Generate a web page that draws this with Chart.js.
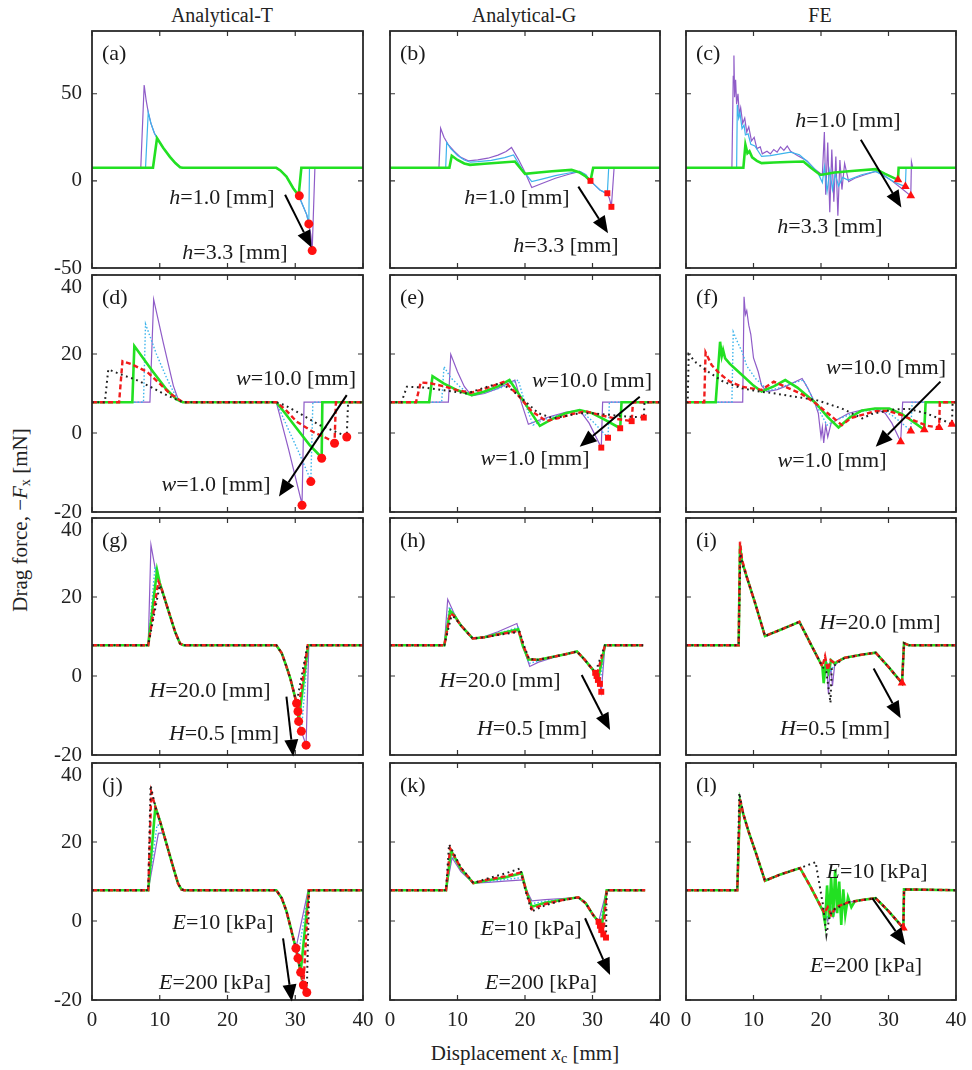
<!DOCTYPE html>
<html><head><meta charset="utf-8">
<script src="https://cdn.jsdelivr.net/npm/chart.js@4.4.1/dist/chart.umd.min.js"></script>
<style>
html,body{margin:0;padding:0;background:#fff;}
body{width:972px;height:1070px;position:relative;overflow:hidden;font-family:'Liberation Serif','Times New Roman',serif;color:#222;}
canvas{position:absolute;}
.t{position:absolute;white-space:nowrap;transform:translate(-50%,-50%);font-size:22px;line-height:1;color:#1a1a1a;}
.pl{position:absolute;white-space:nowrap;transform:translateY(-50%);font-size:22px;line-height:1;color:#1a1a1a;}
.ct{position:absolute;white-space:nowrap;transform:translate(-50%,-50%);font-size:20px;line-height:1;}
sub{font-size:68%;vertical-align:-0.25em;line-height:0;}
.yt{position:absolute;left:20px;top:520px;white-space:nowrap;transform:translate(-50%,-50%) rotate(-90deg);font-size:21px;line-height:1;}
</style></head><body>
<div class="ct" style="left:222px;top:15px">Analytical-T</div>
<div class="ct" style="left:524px;top:15px">Analytical-G</div>
<div class="ct" style="left:820px;top:15px">FE</div>
<div class="yt">Drag force, &minus;<i>F</i><sub>x</sub> [mN]</div>
<div class="ct" style="left:525px;top:1053px;font-size:21px">Displacement <i>x</i><sub>c</sub> [mm]</div>
<script>
// ---------- axes ----------
const X_TICKS=[0,10,20,30,40];
const Y_TICKS_TOP=[-50,0,50];
const Y_TICKS=[-20,0,20,40];
const Y_RANGE_TOP=[-50,86];
const Y_RANGE=[-20,40];
const PANEL_LABELS=['(a)','(b)','(c)','(d)','(e)','(f)','(g)','(h)','(i)','(j)','(k)','(l)'];

// ---------- (a) ----------
const A_PURPLE=[[0,7.5],[7.2,7.5],[7.7,55],[8.0,46],[8.3,39.5],[8.7,33],[9.2,27.5],[9.6,24.5],[10.5,19],[11.5,13.8],[12.3,10.2],[13,7.8],[13.4,7.5],[27.2,7.5],[27.8,6],[28.7,2.5],[29.7,-4.2],[30.5,-8.4],[31.2,-14.8],[31.7,-19.5],[32.0,-24.7],[32.3,-31],[32.5,-40],[32.9,7.5],[40,7.5]];
const A_BLUE=[[0,7.5],[7.9,7.5],[8.3,39.3],[8.7,33],[9.2,27.5],[9.6,24.5],[10.5,19],[11.5,13.8],[12.3,10.2],[13,7.8],[13.4,7.5],[27.2,7.5],[27.8,6],[28.7,2.5],[29.7,-4.2],[30.5,-8.4],[31.2,-14.8],[31.7,-19.5],[32.0,-24.7],[32.1,7.5],[40,7.5]];
const A_GREEN=[[0,7.5],[9.0,7.5],[9.6,24.5],[10.5,19],[11.5,13.8],[12.3,10.2],[13,7.8],[13.4,7.5],[27.2,7.5],[27.8,6],[28.7,2.5],[29.7,-4.2],[30.5,-8.4],[30.9,7.5],[40,7.5]];
const A_MARKS=[[30.6,-8.6],[32.0,-24.7],[32.5,-40]];
const A_ARROW=[[28.5,-8],[32.4,-38.3]];

// ---------- (b) ----------
const B_PURPLE=[[0,7.5],[7.25,7.5],[7.5,30.2],[8.0,25],[8.6,21],[9.5,17],[10.5,13.5],[11.6,11.5],[13,12],[14.5,13],[16,14.8],[17.2,16.8],[18,19.2],[19,12.5],[20,5],[21,-3.8],[22.5,-1.5],[24.5,1.5],[26.5,3.8],[28.1,5.4],[29,3.5],[29.7,0],[30.5,-3],[31.1,-5.2],[31.7,-6.5],[32.2,-7.6],[32.5,-10],[32.8,-14.7],[33.2,7.5],[40,7.5]];
const B_BLUE=[[0,7.5],[8.25,7.5],[8.4,22],[9,18.5],[10,14.5],[11,12],[11.9,10.7],[13,11],[15,11.8],[17,13.3],[18.3,14.9],[19.5,7],[21,-0.4],[22.5,1],[24.5,3],[26.5,4.5],[28.1,5.4],[29,3.5],[29.7,0],[30.5,-3],[31.1,-5.2],[31.7,-6.3],[32.2,-7.1],[32.4,7.5],[40,7.5]];
const B_GREEN=[[0,7.5],[8.8,7.5],[9.15,14.4],[10,12],[11,10],[11.85,9.2],[14,9.8],[16,10.4],[18.5,11.1],[20,4],[22,4.8],[24,5.5],[26.9,6.3],[28,5],[29,2.5],[29.7,0],[30.1,7.5],[40,7.5]];
const B_MARKS=[[29.7,0],[32.2,-7.1],[32.8,-14.9]];
const B_ARROW=[[27.9,-3.3],[32.3,-30]];

// ---------- (c) ----------
const C_PURPLE=[[0,7.5],[6.8,7.5],[7.0,60],[7.1,72],[7.2,48],[7.35,58],[7.5,44],[7.7,50],[7.9,38],[8.1,42],[8.4,33],[8.7,36],[9.0,28],[9.3,31],[9.7,23],[10.1,25],[10.5,18.5],[11,19.5],[11.3,15.5],[12,17],[12.5,15.5],[13,18],[13.5,16.5],[14,19.5],[14.5,17.5],[15,20],[15.5,17],[16.5,14.5],[17.9,11.5],[19,7],[20.2,3.4],[20.5,28],[20.7,-8],[21,22],[21.3,-18],[21.6,18],[21.9,-12],[22.2,14],[22.5,-20],[22.8,12],[23.1,-5],[23.5,10],[24.1,-0.4],[25,1.5],[26.5,3.5],[28.1,5.4],[29,4],[30.5,0],[32,-4.5],[33.3,-8.6],[33.4,11],[33.6,7.5],[40,7.5]];
const C_BLUE=[[0,7.5],[7.5,7.5],[7.6,43.7],[7.8,36],[8.0,39],[8.3,30],[8.6,32],[8.8,26.4],[9.2,27],[9.6,21],[10.2,20],[11.2,14],[12.5,14.5],[14,15.5],[15.5,16.5],[16.8,15],[18,11],[19.5,5],[20.2,-1],[20.5,8],[20.9,-6],[21.3,6],[21.7,-5],[22.1,4],[22.6,-3],[23.2,2],[24,0.5],[26,3.5],[28.1,5.4],[29.5,2.5],[31,-1],[32.5,-3.3],[32.6,7.5],[40,7.5]];
const C_GREEN=[[0,7.5],[8.5,7.5],[8.8,20.7],[9.1,15.9],[9.4,17],[9.8,13.5],[10.5,11.5],[11.2,10.2],[13,10.5],[15,10.8],[17.4,11.1],[18.5,7.5],[19.9,3.4],[22,4.8],[25,5.8],[28.1,6.7],[29.5,4],[31.4,0.6],[31.5,7.5],[40,7.5]];
const C_MARKS=[[31.4,0.6],[32.5,-3.3],[33.3,-8.6]];
const C_ARROW=[[25.9,23.6],[31.9,-15.3]];

// ---------- (d) ----------
const D_PURPLE=[[0,7.8],[8.55,7.8],[9.1,33.8],[10.5,23],[12,12],[12.7,8.6],[13.4,7.8],[27.2,7.8],[29,-4],[31.0,-18],[31.3,7.8],[40,7.8]];
const D_BLUE=[[0,7.8],[7.6,7.8],[7.9,27.6],[9.5,20],[11,14],[12,10.5],[12.7,8.6],[13.4,7.8],[27.2,7.8],[28.7,2],[30.5,-4.8],[32.3,-12],[32.6,7.8],[40,7.8]];
const D_GREEN=[[0,7.8],[5.95,7.8],[6.25,22],[9,15.5],[11,11],[12.5,8.5],[13.4,7.8],[27.2,7.8],[28.5,5],[30.2,1.2],[32.1,-3],[33.9,-6.2],[34.0,7.8],[40,7.8]];
const D_RED=[[0,7.8],[4.0,7.8],[4.5,18.2],[6,17.3],[8.1,15.5],[10,12.5],[11.5,10],[12.7,8.6],[13.4,7.8],[27.2,7.8],[28.5,6],[30.2,2.9],[32.6,0.3],[34.5,-1.2],[35.8,-2.4],[36.0,7.8],[40,7.8]];
const D_BLACK=[[0,7.8],[1.9,7.8],[2.4,16.1],[4,15],[6.6,13.4],[8.5,11.8],[10.5,10],[12,8.8],[13.4,7.8],[27.2,7.8],[28.5,7],[30.2,5.4],[33.6,2],[36,0.3],[37.6,-0.9],[37.8,7.8],[40,7.8]];
const D_MARKS=[[31.0,-18.3],[32.3,-12.3],[33.9,-6.4],[35.8,-2.6],[37.6,-1]];
const D_ARROW=[[37.6,9.6],[27.6,-16.1]];

// ---------- (e) ----------
const E_PURPLE=[[0,7.8],[8.65,7.8],[9.0,19.9],[10,15.5],[11,11.8],[12.1,9.4],[14,10],[16,11.3],[18.5,13.4],[19.5,7.5],[20.5,2.2],[22,3.2],[24,4.3],[26,5.2],[28.1,5.8],[29.5,2.5],[31.3,-3.7],[31.5,7.8],[40,7.8]];
const E_BLUE=[[0,7.8],[7.65,7.8],[8.0,16.8],[9,14],[10.5,11.5],[12.1,9.6],[14,10.2],[16.5,11.5],[19.0,13.4],[20,7.5],[21.2,2.0],[23,3.5],[25.5,4.8],[28.1,5.8],[30,3],[32.3,-1.2],[32.5,7.8],[40,7.8]];
const E_GREEN=[[0,7.8],[5.8,7.8],[6.3,14.4],[8,12.5],[10,10.8],[12.1,9.6],[14,10.5],[16,11.8],[17.7,13.4],[20,7.5],[22.2,1.8],[24,3.5],[26,5],[28.1,5.8],[30,5],[32,3.2],[34.1,1.2],[34.3,7.8],[40,7.8]];
const E_RED=[[0,7.8],[3.85,7.8],[4.55,12.8],[6,12.6],[8,11.8],[10,10.8],[12,10.2],[14,11.2],[17.0,13.0],[19,9.5],[21,5.5],[23.2,3.0],[25,3.8],[27,4.8],[29,5.5],[31,4.6],[33.5,3.6],[35.8,3.0],[36,7.8],[40,7.8]];
const E_BLACK=[[0,7.8],[1.7,7.8],[2.5,11.7],[5,11.5],[8,10.8],[11.4,10.0],[14,11.5],[16.3,12.6],[18,11],[20,8],[22,5],[24.2,3.7],[26,4.3],[28,5],[30,5],[32.5,4.6],[35,4.2],[37.6,3.9],[37.7,7.8],[40,7.8]];
const E_MARKS=[[31.3,-3.7],[32.3,-1.2],[34.1,1.2],[35.8,3.0],[37.6,3.9]];
const E_ARROW=[[37.0,9.2],[28.1,-3.5]];

// ---------- (f) ----------
const F_PURPLE=[[0,7.8],[8.4,7.8],[8.6,34.5],[8.8,30],[9.0,31],[9.3,27.3],[9.6,25],[10,19],[10.7,15.5],[11.2,12],[12.0,10.5],[13.5,11],[15,12],[17.2,13.8],[18,11.5],[19,8],[19.6,5],[20.0,-1],[20.2,1.5],[20.4,-2.5],[20.7,2],[21,-1],[21.5,2.5],[22.5,3.5],[24.1,5.0],[26,5.8],[28.1,6.2],[29.5,5],[30.5,2.5],[31.8,-2.2],[32.1,7.8],[40,7.8]];
const F_BLUE=[[0,7.8],[6.8,7.8],[7.0,25.6],[7.5,23.5],[8.3,20.6],[9,17],[10.3,13.8],[12.2,10.7],[14,11.5],[15.5,12.5],[17.4,13.4],[19,8],[20.9,2.0],[22.5,3.5],[24.5,4.8],[26.5,5.6],[28.8,6.1],[30.5,4.5],[32,2.5],[33.3,0.5],[33.5,7.8],[40,7.8]];
const F_GREEN=[[0,7.8],[4.4,7.8],[5.05,23.1],[5.3,19.5],[5.5,21],[5.8,18.9],[6.5,17.5],[8.3,14.7],[10,12],[11.2,10.5],[13,11.8],[14.7,13.4],[16.5,11.5],[19.2,7.6],[21,4],[22.6,1.4],[24.3,4],[26.1,5.7],[28,6.2],[30.1,6.2],[32,4.8],[33.7,2.8],[35.3,0.8],[35.5,7.8],[40,7.8]];
const F_RED=[[0,7.8],[2.7,7.8],[2.9,20.4],[3.8,17.2],[5,15],[6.5,13],[8.3,11.7],[11.2,10.9],[13.0,13.0],[15,11.5],[17,10],[19.2,7.5],[21,5],[23.1,2.0],[24.5,3.8],[26.1,4.6],[28,5.5],[30,5.6],[32,4.5],[34,3],[35.8,1.8],[37.5,1.4],[37.6,7.8],[40,7.8]];
const F_BLACK=[[0,7.8],[0.25,7.8],[0.4,19.9],[1.5,17.8],[3.3,15.5],[5.5,13],[8.3,11.3],[10.5,10.6],[13.2,10.0],[16,9.2],[19.2,8.4],[21,7.4],[23.1,6.2],[26.1,3.7],[27.5,4.8],[29.1,5.4],[31,6],[33,6.1],[35.5,5],[37.5,3.7],[39.4,2.2],[39.5,7.8],[40,7.8]];
const F_MARKS=[[31.8,-2.2],[33.3,0.5],[35.3,0.8],[37.5,1.4],[39.4,2.2]];
const F_ARROW=[[37.7,13.0],[28.1,-3.5]];

// ---------- (g) ----------
const G_PURPLE=[[0,7.8],[8.3,7.8],[8.7,33.2],[9.3,27.5],[10,23],[11.25,16.7],[12.3,11],[13,8.2],[13.5,7.8],[27.2,7.8],[28,5.8],[28.7,2.4],[29.3,-0.8],[29.7,-3.5],[30.2,-6.9],[30.4,-9],[30.5,-11.5],[30.9,-14],[31.6,-17.5],[32.0,7.8],[40,7.8]];
const G_BLUE=[[0,7.8],[8.3,7.8],[9.3,27.7],[10,23],[11.25,16.7],[12.3,11],[13,8.2],[13.5,7.8],[27.2,7.8],[28,5.8],[28.7,2.4],[29.3,-0.8],[29.7,-3.5],[30.2,-6.9],[30.4,-9],[30.5,-11.5],[30.9,-14],[31.95,7.8],[40,7.8]];
const G_GREEN=[[0,7.8],[8.3,7.8],[9.6,26.8],[10,23.6],[11.25,16.7],[12.3,11],[13,8.2],[13.5,7.8],[27.2,7.8],[28,5.8],[28.7,2.4],[29.3,-0.8],[29.7,-3.5],[30.2,-6.9],[30.4,-9],[30.5,-11.5],[31.9,7.8],[40,7.8]];
const G_RED=[[0,7.8],[8.3,7.8],[9.8,23.9],[10.2,22.5],[11.25,16.7],[12.3,11],[13,8.2],[13.5,7.8],[27.2,7.8],[28,5.8],[28.7,2.4],[29.3,-0.8],[29.7,-3.5],[30.2,-6.9],[30.4,-9],[31.85,7.8],[40,7.8]];
const G_BLACK=[[0,7.8],[8.3,7.8],[10.0,23],[10.3,21.8],[11.25,16.7],[12.3,11],[13,8.2],[13.5,7.8],[27.2,7.8],[28,5.8],[28.7,2.4],[29.3,-0.8],[29.7,-3.5],[30.2,-6.9],[31.8,7.8],[40,7.8]];
const G_MARKS=[[30.2,-6.9],[30.4,-9],[30.5,-11.5],[30.9,-14],[31.6,-17.5]];
const G_ARROW=[[28.7,-5.2],[29.7,-20.4]];

// ---------- (h) ----------
const H_PURPLE=[[0,7.8],[8.05,7.8],[8.55,19.4],[9.5,15.8],[10.5,12.8],[12.25,9.5],[14,10],[16,11.2],[18.8,13.3],[19.7,7.5],[20.7,2.4],[22,3.5],[24,4.6],[26,5.5],[27.7,6.2],[28.8,4.2],[30.1,1.5],[30.6,0],[30.8,-1],[31.1,-2],[31.3,-4.0],[31.85,7.8],[37.5,7.8]];
const H_BLUE=[[0,7.8],[8.05,7.8],[8.8,17.5],[9.5,15.6],[10.5,12.8],[12.25,9.5],[14,9.9],[16,10.8],[19.0,12.3],[19.8,7.5],[20.6,3.2],[22,3.8],[24,4.7],[26,5.5],[27.7,6.2],[28.8,4.2],[30.1,1.5],[30.6,0],[30.8,-1],[31.1,-2],[31.85,7.8],[37.5,7.8]];
const H_GREEN=[[0,7.8],[8.05,7.8],[8.9,16.5],[9.5,15.4],[10.5,12.8],[12.25,9.5],[14,9.8],[16,10.6],[19.0,11.8],[19.7,7.5],[20.5,4.2],[22,4.1],[24,4.8],[26,5.5],[27.7,6.2],[28.8,4.2],[30.1,1.5],[30.6,0],[30.8,-1],[31.85,7.8],[37.5,7.8]];
const H_RED=[[0,7.8],[8.05,7.8],[8.95,15.9],[9.5,15.2],[10.5,12.8],[12.25,9.5],[14,9.8],[16,10.5],[19.1,11.4],[19.8,7.5],[20.6,4.2],[22,4.1],[24,4.8],[26,5.5],[27.7,6.2],[28.8,4.2],[30.1,1.5],[30.6,0],[31.85,7.8],[37.5,7.8]];
const H_BLACK=[[0,7.8],[8.05,7.8],[9.1,15.2],[9.6,14.8],[10.5,12.8],[12.25,9.5],[14,9.8],[16,10.4],[19.2,11.2],[19.9,7.5],[20.6,4.3],[22,4.1],[24,4.8],[26,5.5],[27.7,6.2],[28.8,4.2],[30.1,1.5],[30.4,0.8],[31.85,7.8],[37.5,7.8]];
const H_MARKS=[[30.4,0.8],[30.6,0],[30.8,-1],[31.1,-2],[31.3,-4]];
const H_ARROW=[[28.4,0.25],[32.6,-13.7]];

// ---------- (i) ----------
const I_PURPLE=[[0,7.8],[7.8,7.8],[8.0,32],[8.3,28.5],[9.0,25.1],[10.25,18.4],[11.7,10.1],[14,11.7],[16.8,13.7],[18.5,8],[20.2,2.4],[20.5,-1],[20.8,4],[21.1,-4.5],[21.4,3],[21.7,-2.5],[22,2.5],[22.5,3.5],[23.5,4.6],[26,5.4],[28.1,5.9],[30,2.3],[32.0,-1.8],[32.3,8.3],[33,7.8],[40,7.8]];
const I_BLUE=[[0,7.8],[7.8,7.8],[8.0,32.5],[8.3,28.8],[9.0,25.1],[10.25,18.4],[11.7,10.1],[14,11.7],[16.8,13.7],[18.5,8],[20.2,2.4],[20.6,0.5],[21,3],[21.4,1],[22,3],[23.5,4.6],[26,5.4],[28.1,5.9],[30,2.3],[32.0,-1.8],[32.3,8.3],[33,7.8],[40,7.8]];
const I_GREEN=[[0,7.8],[7.8,7.8],[8.0,33],[8.3,29],[9.0,25.1],[10.25,18.4],[11.7,10.1],[14,11.7],[16.8,13.7],[18.5,8],[20.2,2.4],[20.4,-1.8],[20.7,3.5],[21.1,1],[21.5,4],[22,3.2],[23.5,4.6],[26,5.4],[28.1,5.9],[30,2.3],[32.0,-1.8],[32.3,8.3],[33,7.8],[40,7.8]];
const I_RED=[[0,7.8],[7.8,7.8],[8.0,34],[8.3,29.5],[9.0,25.1],[10.25,18.4],[11.7,10.1],[14,11.7],[16.8,13.7],[18.5,8],[20.2,2.4],[20.6,5],[21,1.5],[21.4,4],[22,3.3],[23.5,4.6],[26,5.4],[28.1,5.9],[30,2.3],[32.0,-1.8],[32.3,8.3],[33,7.8],[40,7.8]];
const I_BLACK=[[0,7.8],[7.8,7.8],[8.05,31],[8.4,28],[9.0,25.1],[10.25,18.4],[11.7,10.1],[14,11.7],[16.8,13.7],[18.5,8],[20.2,2.4],[20.8,1],[21.4,-6.8],[21.6,2],[22.2,3],[23.5,4.6],[26,5.4],[28.1,5.9],[30,2.3],[32.0,-1.8],[32.3,8.3],[33,7.8],[40,7.8]];
const I_MARKS=[[32.0,-1.8]];
const I_ARROW=[[27.8,1.9],[31.8,-10.7]];

// ---------- (j) ----------
const J_PURPLE=[[0,7.8],[8.3,7.8],[9.8,22.2],[10.5,22.3],[11,19.5],[12,13.5],[12.7,9.5],[13.2,8],[13.6,7.8],[27.2,7.8],[28,5.8],[28.7,2.5],[29.3,-1.5],[29.7,-4.3],[30.1,-6.9],[31.9,7.8],[40,7.8]];
const J_BLUE=[[0,7.8],[8.3,7.8],[9.6,24.3],[10.2,24.2],[11,19.5],[12,13.5],[12.7,9.5],[13.2,8],[13.6,7.8],[27.2,7.8],[28,5.8],[28.7,2.5],[29.3,-1.5],[29.7,-4.3],[30.1,-6.9],[30.4,-9.4],[31.95,7.8],[40,7.8]];
const J_GREEN=[[0,7.8],[8.3,7.8],[9.35,28.9],[10,25.5],[11,19.5],[12,13.5],[12.7,9.5],[13.2,8],[13.6,7.8],[27.2,7.8],[28,5.8],[28.7,2.5],[29.3,-1.5],[29.7,-4.3],[30.1,-6.9],[30.4,-9.4],[30.8,-13],[32.0,7.8],[40,7.8]];
const J_RED=[[0,7.8],[8.3,7.8],[8.75,32.6],[9.35,28.9],[10,25.5],[11,19.5],[12,13.5],[12.7,9.5],[13.2,8],[13.6,7.8],[27.2,7.8],[28,5.8],[28.7,2.5],[29.3,-1.5],[29.7,-4.3],[30.1,-6.9],[30.4,-9.4],[30.8,-13],[31.2,-16.2],[32.0,7.8],[40,7.8]];
const J_BLACK=[[0,7.8],[8.3,7.8],[8.65,34.3],[9.35,28.9],[10,25.5],[11,19.5],[12,13.5],[12.7,9.5],[13.2,8],[13.6,7.8],[27.2,7.8],[28,5.8],[28.7,2.5],[29.3,-1.5],[29.7,-4.3],[30.1,-6.9],[30.4,-9.4],[30.8,-13],[31.2,-16.2],[31.7,-18.1],[32.05,7.8],[40,7.8]];
const J_MARKS=[[30.1,-6.9],[30.4,-9.4],[30.8,-13],[31.2,-16.2],[31.7,-18.1]];
const J_ARROW=[[28.2,-4.4],[29.5,-20.4]];

// ---------- (k) ----------
const K_PURPLE=[[0,7.8],[8.3,7.8],[9.2,16.0],[10.5,12.5],[12.35,9.6],[14.5,9.8],[17,10.1],[19.75,10.4],[20.3,7.5],[21.0,5.1],[23,5.4],[25.5,5.7],[27.9,6.0],[29,4.5],[30.1,1.5],[30.9,-0.2],[32.1,7.8],[37.8,7.8]];
const K_BLUE=[[0,7.8],[8.3,7.8],[9.15,16.7],[10.5,12.9],[12.35,9.6],[14.5,10],[17,10.5],[19.6,11.0],[20.3,7.5],[21,4.4],[23,5],[25.5,5.5],[27.9,6.0],[29,4.5],[30.1,1.5],[30.9,-0.2],[31.1,-1.2],[32.1,7.8],[37.8,7.8]];
const K_GREEN=[[0,7.8],[8.3,7.8],[9.05,17.8],[10.5,13.2],[12.35,9.6],[14.5,10.3],[17,11],[19.5,12.1],[20.2,7.5],[21,3.6],[23,4.6],[25.5,5.4],[27.9,6.0],[29,4.5],[30.1,1.5],[30.9,-0.2],[31.1,-1.2],[31.3,-2.3],[32.1,7.8],[37.8,7.8]];
const K_RED=[[0,7.8],[8.3,7.8],[8.9,18.4],[10.5,13.4],[12.35,9.6],[14.5,10.5],[17,11.3],[19.4,12.3],[20.2,7.5],[21,3.0],[23,4.3],[25.5,5.3],[27.9,6.0],[29,4.5],[30.1,1.5],[30.9,-0.2],[31.1,-1.2],[31.3,-2.3],[31.6,-3.4],[32.1,7.8],[37.8,7.8]];
const K_BLACK=[[0,7.8],[8.3,7.8],[8.75,19.4],[10.5,13.6],[12.35,9.6],[14.5,10.8],[17,12],[19.3,13.3],[20.1,7.5],[21,2.4],[23,4],[25.5,5.2],[27.9,6.0],[29,4.5],[30.1,1.5],[30.9,-0.2],[31.1,-1.2],[31.3,-2.3],[31.6,-3.4],[32.0,-4.2],[32.1,7.8],[37.8,7.8]];
const K_MARKS=[[30.9,-0.2],[31.1,-1.2],[31.3,-2.3],[31.6,-3.4],[32.0,-4.2]];
const K_ARROW=[[28.9,0.7],[32.6,-13.7]];

// ---------- (l) ----------
const L_PURPLE=[[0,7.8],[7.6,7.8],[8.0,30.6],[8.5,27],[9.3,22.5],[10.3,17.5],[11.7,10.2],[14,11.8],[16.9,13.4],[18.5,8.5],[20.5,2],[21,0],[21.4,3],[21.8,1],[22.3,3.5],[24,4.7],[26,5.3],[28.1,5.8],[30,2.5],[32.2,-1.8],[32.3,8],[40,7.8]];
const L_BLUE=[[0,7.8],[7.6,7.8],[8.0,30.2],[8.5,27],[9.3,22.5],[10.3,17.5],[11.7,10.2],[14,11.8],[16.9,13.4],[18.5,8.5],[20.5,2],[21,1],[21.5,3.5],[22,2],[22.5,3.8],[24,4.7],[26,5.3],[28.1,5.8],[30,2.5],[32.2,-1.8],[32.3,8],[40,7.8]];
const L_GREEN=[[0,7.8],[7.6,7.8],[8.0,30.4],[8.5,27],[9.3,22.5],[10.3,17.5],[11.7,10.2],[14,11.8],[16.9,13.4],[18.5,8.5],[20.3,2.5],[20.6,-0.5],[20.9,9],[21.2,0.5],[21.5,11],[21.8,1],[22.1,13],[22.4,2],[22.7,10],[23,-1],[23.3,8],[23.6,1.5],[24,6],[24.5,3.5],[25,5],[26,5.3],[28.1,5.8],[30,2.5],[32.2,-1.8],[32.3,8],[40,7.8]];
const L_RED=[[0,7.8],[7.6,7.8],[8.0,31],[8.5,27],[9.3,22.5],[10.3,17.5],[11.7,10.2],[14,11.8],[16.9,13.4],[18.5,8.5],[20.5,2],[21,3.5],[21.5,1.5],[22.2,3.5],[24,4.7],[26,5.3],[28.1,5.8],[30,2.5],[32.2,-1.8],[32.3,8],[40,7.8]];
const L_BLACK=[[0,7.8],[7.6,7.8],[7.9,32.4],[8.5,27],[9.3,22.5],[10.3,17.5],[11.7,10.2],[14,11.8],[16.9,13.4],[19.2,14.9],[20.3,4],[20.8,-3.5],[21.3,1.5],[22,3],[24,4.7],[26,5.3],[28.1,5.8],[30,2.5],[32.2,-1.8],[32.3,8],[40,7.8]];
const L_MARKS=[[32.2,-1.8]];
const L_ARROW=[[27.6,5.8],[32.5,-6.1]];

// ---------- layout & styles ----------
const COL_L=[92,390,686], COL_R=[363,660,956];
const ROW_T=[31,275,518,763], ROW_B=[268,512,755,1000];
const STY={
  purple:{borderColor:'#8f5cc8',borderWidth:1.2},
  blue1:{borderColor:'#3cb4ec',borderWidth:1.2},
  blue:{borderColor:'#3cb4ec',borderWidth:1.4,borderDash:[1.5,2]},
  green:{borderColor:'#22e022',borderWidth:2.6},
  red:{borderColor:'#f01c1c',borderWidth:2.4,borderDash:[5,3]},
  black:{borderColor:'#222',borderWidth:2,borderDash:[1.8,3.6]}
};
const S5=(p,b,g,r,k)=>[[p,'purple'],[b,'blue'],[g,'green'],[r,'red'],[k,'black']];
const PANELS=[
 {c:0,r:0,series:[[A_PURPLE,'purple'],[A_BLUE,'blue1'],[A_GREEN,'green']],marks:A_MARKS,ms:'circle',arrow:A_ARROW},
 {c:1,r:0,series:[[B_PURPLE,'purple'],[B_BLUE,'blue1'],[B_GREEN,'green']],marks:B_MARKS,ms:'rect',arrow:B_ARROW},
 {c:2,r:0,series:[[C_PURPLE,'purple'],[C_BLUE,'blue1'],[C_GREEN,'green']],marks:C_MARKS,ms:'triangle',arrow:C_ARROW},
 {c:0,r:1,series:S5(D_PURPLE,D_BLUE,D_GREEN,D_RED,D_BLACK),marks:D_MARKS,ms:'circle',arrow:D_ARROW},
 {c:1,r:1,series:S5(E_PURPLE,E_BLUE,E_GREEN,E_RED,E_BLACK),marks:E_MARKS,ms:'rect',arrow:E_ARROW},
 {c:2,r:1,series:S5(F_PURPLE,F_BLUE,F_GREEN,F_RED,F_BLACK),marks:F_MARKS,ms:'triangle',arrow:F_ARROW},
 {c:0,r:2,series:S5(G_PURPLE,G_BLUE,G_GREEN,G_RED,G_BLACK),marks:G_MARKS,ms:'circle',arrow:G_ARROW},
 {c:1,r:2,series:S5(H_PURPLE,H_BLUE,H_GREEN,H_RED,H_BLACK),marks:H_MARKS,ms:'rect',arrow:H_ARROW},
 {c:2,r:2,series:S5(I_PURPLE,I_BLUE,I_GREEN,I_RED,I_BLACK),marks:I_MARKS,ms:'triangle',arrow:I_ARROW},
 {c:0,r:3,series:S5(J_PURPLE,J_BLUE,J_GREEN,J_RED,J_BLACK),marks:J_MARKS,ms:'circle',arrow:J_ARROW},
 {c:1,r:3,series:S5(K_PURPLE,K_BLUE,K_GREEN,K_RED,K_BLACK),marks:K_MARKS,ms:'rect',arrow:K_ARROW},
 {c:2,r:3,series:S5(L_PURPLE,L_BLUE,L_GREEN,L_RED,L_BLACK),marks:L_MARKS,ms:'triangle',arrow:L_ARROW}
];

const framePlugin={id:'frame',afterDatasetsDraw(chart){
  const p=PANELS[+chart.canvas.dataset.pid];
  const {ctx,chartArea:a,scales:{x,y}}=chart;
  const yt=p.r===0?Y_TICKS_TOP:Y_TICKS;
  ctx.save();
  ctx.strokeStyle='#333';ctx.lineWidth=1.2;ctx.setLineDash([]);
  ctx.beginPath();
  X_TICKS.forEach(v=>{const px=x.getPixelForValue(v);ctx.moveTo(px,a.bottom);ctx.lineTo(px,a.bottom-5);ctx.moveTo(px,a.top);ctx.lineTo(px,a.top+5);});
  yt.forEach(v=>{const py=y.getPixelForValue(v);ctx.moveTo(a.left,py);ctx.lineTo(a.left+5,py);ctx.moveTo(a.right,py);ctx.lineTo(a.right-5,py);});
  ctx.stroke();
  ctx.lineWidth=1.8;ctx.strokeStyle='#2a2a2a';
  ctx.strokeRect(a.left,a.top,a.right-a.left,a.bottom-a.top);
  const [p0,p1]=p.arrow;
  const x0=x.getPixelForValue(p0[0]),y0=y.getPixelForValue(p0[1]),x1=x.getPixelForValue(p1[0]),y1=y.getPixelForValue(p1[1]);
  const ang=Math.atan2(y1-y0,x1-x0),hl=17,hw=7;
  const bx=x1-hl*Math.cos(ang),by=y1-hl*Math.sin(ang);
  ctx.strokeStyle='#000';ctx.lineWidth=2;ctx.beginPath();ctx.moveTo(x0,y0);ctx.lineTo(bx,by);ctx.stroke();
  ctx.fillStyle='#000';ctx.beginPath();ctx.moveTo(x1,y1);
  ctx.lineTo(bx+hw*Math.sin(ang),by-hw*Math.cos(ang));ctx.lineTo(bx-hw*Math.sin(ang),by+hw*Math.cos(ang));ctx.closePath();ctx.fill();
  ctx.restore();
}};
const zeroPad=s=>{s.paddingTop=0;s.paddingBottom=0;s.paddingLeft=0;s.paddingRight=0;};

Chart.defaults.font.family="'Liberation Serif','Times New Roman',serif";
PANELS.forEach((p,i)=>{
  const firstCol=p.c===0,last=p.r===3;
  const M=14;
  const L=firstCol?70:M,R=M,T=M,B=last?45:M;
  const left=COL_L[p.c],right=COL_R[p.c],top=ROW_T[p.r],bottom=ROW_B[p.r];
  const cv=document.createElement('canvas');
  cv.dataset.pid=i;
  cv.width=right-left+L+R;cv.height=bottom-top+T+B;
  cv.style.left=(left-L)+'px';cv.style.top=(top-T)+'px';
  cv.style.width=cv.width+'px';cv.style.height=cv.height+'px';
  document.body.appendChild(cv);
  const lab=document.createElement('div');lab.className='pl';lab.textContent=PANEL_LABELS[i];
  lab.style.left=(left+10)+'px';lab.style.top=(top+22)+'px';document.body.appendChild(lab);
  const yr=p.r===0?Y_RANGE_TOP:Y_RANGE,yt=p.r===0?Y_TICKS_TOP:Y_TICKS;
  // first dataset is drawn on top: markers first, then series from top-most (black/green) to bottom-most (purple)
  const datasets=[{data:p.marks,showLine:false,pointStyle:p.ms,pointRadius:p.ms==='triangle'?5:(p.ms==='rect'?4.2:4.5),pointBackgroundColor:'#ff1010',pointBorderColor:'#ff1010',pointBorderWidth:0,borderWidth:0}];
  p.series.slice().reverse().forEach(([d,s])=>datasets.push(Object.assign({data:d,pointRadius:0,tension:0,fill:false,borderCapStyle:'butt'},STY[s])));
  new Chart(cv,{type:'line',data:{datasets},options:{
    responsive:false,animation:false,events:[],
    layout:{padding:{left:0,right:R,top:T,bottom:0}},
    plugins:{legend:{display:false},tooltip:{enabled:false}},
    scales:{
      x:{type:'linear',min:0,max:40,display:true,grid:{display:false,drawTicks:false},border:{display:false},
        afterBuildTicks:s=>{s.ticks=X_TICKS.map(v=>({value:v}));},
        afterFit:s=>{s.height=B;zeroPad(s);},
        ticks:{display:last,padding:8,font:{size:21},color:'#222',maxRotation:0,autoSkip:false,callback:v=>String(v)}},
      y:{type:'linear',min:yr[0],max:yr[1],display:true,grid:{display:false,drawTicks:false},border:{display:false},
        afterBuildTicks:s=>{s.ticks=yt.map(v=>({value:v}));},
        afterFit:s=>{s.width=L;zeroPad(s);},
        ticks:{display:firstCol,padding:10,font:{size:21},color:'#222',autoSkip:false,callback:v=>(v===40?['','40']:String(v))}}
    }
  },plugins:[framePlugin]});
});
</script>
<div class="t" style="left:222px;top:197px"><i>h</i>=1.0 [mm]</div>
<div class="t" style="left:235px;top:252px"><i>h</i>=3.3 [mm]</div>
<div class="t" style="left:517px;top:197px"><i>h</i>=1.0 [mm]</div>
<div class="t" style="left:566px;top:245px"><i>h</i>=3.3 [mm]</div>
<div class="t" style="left:848px;top:120px"><i>h</i>=1.0 [mm]</div>
<div class="t" style="left:830px;top:226px"><i>h</i>=3.3 [mm]</div>
<div class="t" style="left:296px;top:378px"><i>w</i>=10.0 [mm]</div>
<div class="t" style="left:216px;top:484px"><i>w</i>=1.0 [mm]</div>
<div class="t" style="left:592px;top:380px"><i>w</i>=10.0 [mm]</div>
<div class="t" style="left:535px;top:458px"><i>w</i>=1.0 [mm]</div>
<div class="t" style="left:886px;top:367px"><i>w</i>=10.0 [mm]</div>
<div class="t" style="left:832px;top:460px"><i>w</i>=1.0 [mm]</div>
<div class="t" style="left:210px;top:690px"><i>H</i>=20.0 [mm]</div>
<div class="t" style="left:224px;top:733px"><i>H</i>=0.5 [mm]</div>
<div class="t" style="left:500px;top:680px"><i>H</i>=20.0 [mm]</div>
<div class="t" style="left:532px;top:728px"><i>H</i>=0.5 [mm]</div>
<div class="t" style="left:880px;top:622px"><i>H</i>=20.0 [mm]</div>
<div class="t" style="left:835px;top:728px"><i>H</i>=0.5 [mm]</div>
<div class="t" style="left:223px;top:922px"><i>E</i>=10 [kPa]</div>
<div class="t" style="left:215px;top:982px"><i>E</i>=200 [kPa]</div>
<div class="t" style="left:531px;top:928px"><i>E</i>=10 [kPa]</div>
<div class="t" style="left:541px;top:982px"><i>E</i>=200 [kPa]</div>
<div class="t" style="left:877px;top:871px"><i>E</i>=10 [kPa]</div>
<div class="t" style="left:866px;top:965px"><i>E</i>=200 [kPa]</div>
</body></html>
